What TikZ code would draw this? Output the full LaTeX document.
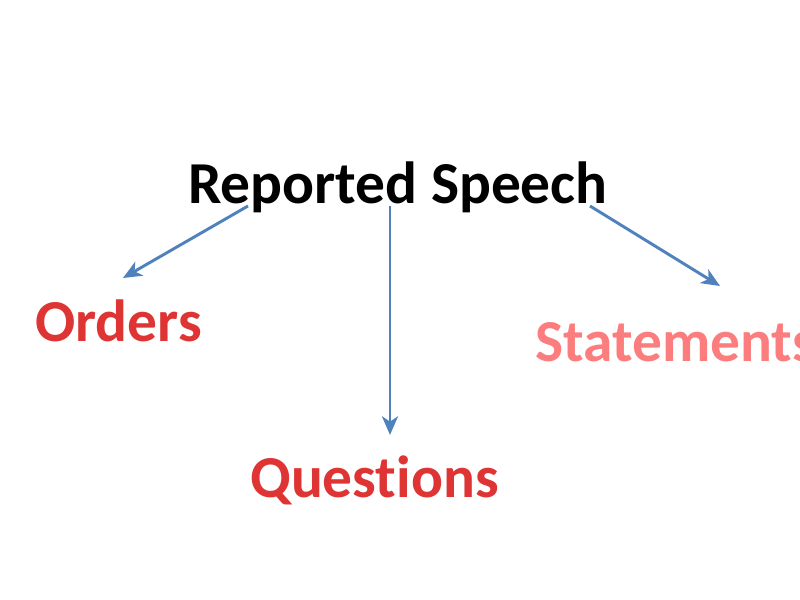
\documentclass[tikz,border=0pt]{standalone}
\usepackage{fontspec}
\setmainfont[Ligatures=NoCommon]{Carlito}
\usetikzlibrary{arrows.meta}
\definecolor{arrowblue}{RGB}{79,129,189}
\definecolor{ordred}{RGB}{222,52,52}
\definecolor{stpink}{RGB}{252,125,125}
\tikzset{
  lbl/.style={font=\fontsize{44.6}{50}\selectfont\bfseries, inner sep=0pt, anchor=base west},
  conn/.style={draw=arrowblue, line width=2.2pt, -{Stealth[length=14pt,width=12pt,inset=4pt]}}
}
\begin{document}
\begin{tikzpicture}[x=0.75pt,y=-0.75pt]
\useasboundingbox (0,0) rectangle (800,600);
\clip (0,0) rectangle (800,600);
\node[lbl, text=black] (rs) at (188,203) {Reported Speech};
\node[lbl, text=ordred] (ord) at (35,341) {Orders};
\node[lbl, text=stpink] (st) at (535,361) {Statements};
\node[lbl, text=ordred] (qu) at (250,497) {Questions};
\coordinate (a1s) at (248,206);
\coordinate (a1e) at (123,278);
\coordinate (a2s) at (390,206);
\coordinate (a2e) at (390,435);
\coordinate (a3s) at (590,206);
\coordinate (a3e) at (720,286);
\draw[conn] (a1s) -- (a1e);
\draw[conn] (a2s) -- (a2e);
\draw[conn] (a3s) -- (a3e);
\end{tikzpicture}
\end{document}
